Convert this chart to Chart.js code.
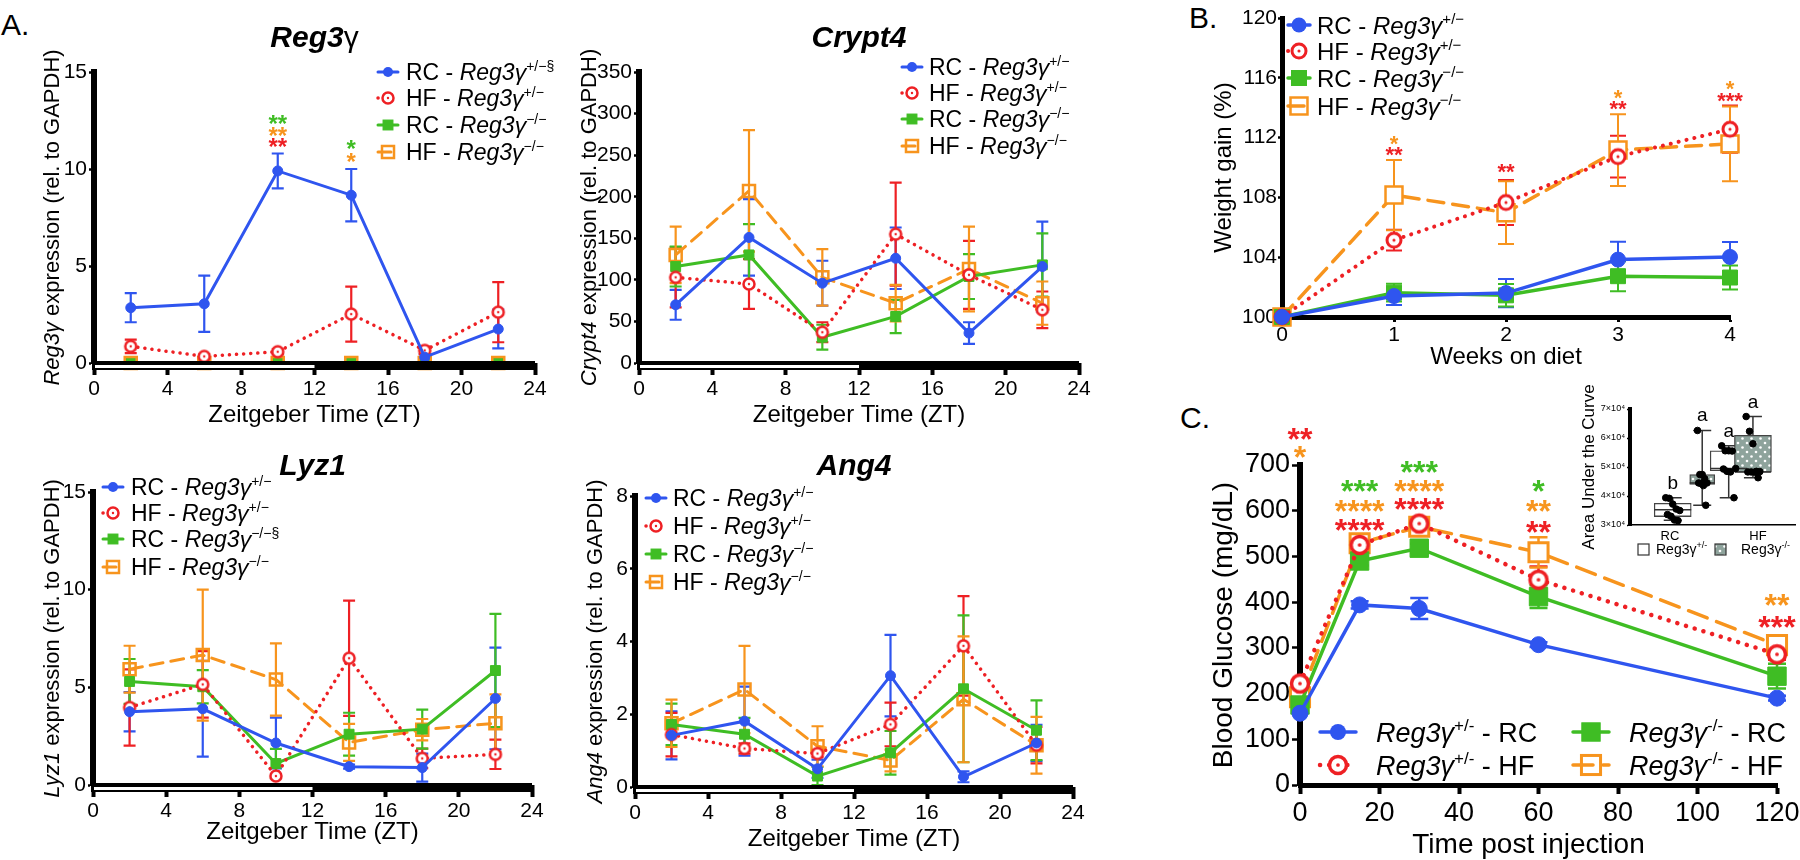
<!DOCTYPE html>
<html>
<head>
<meta charset="utf-8">
<title>Reg3g figure</title>
<script src="https://cdn.jsdelivr.net/npm/chart.js@4.4.1/dist/chart.umd.min.js"></script>
<style>
  html, body { margin: 0; padding: 0; background: #fff; }
  body { width: 1800px; height: 860px; position: relative; overflow: hidden; font-family: "Liberation Sans", Arial, sans-serif; }
  canvas { position: absolute; }
  .tag { position: absolute; font-size: 30px; line-height: 30px; color: #000; }
</style>
</head>
<body>
<div class="tag" style="left:1px;top:10px">A.</div>
<div class="tag" style="left:1189px;top:3px">B.</div>
<div class="tag" style="left:1180px;top:403px">C.</div>
<script>
// ---- data ----
// panel A, sampled every 4 h (ZT)
const zt = [2, 6, 10, 14, 18, 22];

const reg3gRChet = [2.85, 3.05, 9.9, 8.65, 0.3, 1.75];
const reg3gRChetSem = [0.75, 1.45, 0.9, 1.35, 0.15, 1.0];
const reg3gHFhet = [0.86, 0.34, 0.58, 2.52, 0.65, 2.62];
const reg3gHFhetSem = [0.35, 0.1, 0.12, 1.42, 0.2, 1.55];
const reg3gRCko = [0.02, 0.02, 0.02, 0.02, 0.02, 0.02];
const reg3gHFko = [0.0, 0.0, 0.0, 0.0, 0.0, 0.0];
const reg3gStars = [[10, 12.6, '**', 'RCko'], [10, 12.0, '**', 'HFko'], [10, 11.45, '**', 'HFhet'], [14, 11.3, '*', 'RCko'], [14, 10.65, '*', 'HFko']];

const crypt4RChet = [70, 151, 96, 126, 36, 116];
const crypt4RChetSem = [18, 46, 27, 37, 13, 54];
const crypt4HFhet = [103, 95, 37, 155, 106, 64];
const crypt4HFhetSem = [36, 30, 12, 62, 41, 22];
const crypt4RCko = [116, 130, 31, 56, 104, 118];
const crypt4RCkoSem = [24, 37, 15, 20, 27, 38];
const crypt4HFko = [130, 207, 103, 72, 113, 72];
const crypt4HFkoSem = [34, 73, 34, 22, 51, 26];

const lyz1RChet = [3.75, 3.9, 2.15, 0.94, 0.89, 4.43];
const lyz1RChetSem = [1.0, 2.45, 1.3, 0.1, 0.72, 2.6];
const lyz1HFhet = [3.97, 5.15, 0.46, 6.49, 1.36, 1.57];
const lyz1HFhetSem = [1.95, 1.7, 0.1, 2.95, 0.5, 0.75];
const lyz1RCko = [5.3, 5.03, 1.1, 2.6, 2.86, 5.86];
const lyz1RCkoSem = [1.15, 0.85, 0.75, 1.1, 1.0, 2.9];
const lyz1HFko = [5.93, 6.65, 5.4, 2.18, 2.83, 3.16];
const lyz1HFkoSem = [1.2, 3.35, 1.85, 0.95, 0.55, 1.48];

const ang4RChet = [1.42, 1.81, 0.5, 3.06, 0.28, 1.21];
const ang4RChetSem = [0.66, 0.95, 0.25, 1.12, 0.15, 0.5];
const ang4HFhet = [1.44, 1.06, 0.92, 1.72, 3.88, 1.15];
const ang4HFhetSem = [0.6, 0.14, 0.1, 0.6, 1.37, 0.5];
const ang4RCko = [1.72, 1.45, 0.3, 0.94, 2.7, 1.56];
const ang4RCkoSem = [0.57, 0.45, 0.25, 0.6, 2.02, 0.82];
const ang4HFko = [1.75, 2.68, 1.12, 0.73, 2.41, 1.15];
const ang4HFkoSem = [0.65, 1.2, 0.55, 0.3, 1.73, 0.78];

// panel B, weight gain
const weeks = [0, 1, 2, 3, 4];
const wgRChet = [100, 101.4, 101.6, 103.84, 104.02];
const wgRChetSem = [0, 0.6, 0.95, 1.2, 1.0];
const wgHFhet = [100, 105.14, 107.66, 110.73, 112.56];
const wgHFhetSem = [0, 0.7, 1.5, 1.4, 1.58];
const wgRCko = [100, 101.63, 101.45, 102.73, 102.64];
const wgRCkoSem = [0, 0.6, 0.75, 1.0, 0.8];
const wgHFko = [100, 108.16, 106.98, 111.17, 111.58];
const wgHFkoSem = [0, 2.35, 2.1, 2.4, 2.5];
const wgStars = [[1, 111.95, '*', 'HFko'], [1, 111.2, '**', 'HFhet'], [2, 110.05, '**', 'HFhet'], [3, 115.0, '*', 'HFko'], [3, 114.3, '**', 'HFhet'], [4, 115.6, '*', 'HFko'], [4, 114.85, '***', 'HFhet']];

// panel C, glucose tolerance
const gttMin = [0, 15, 30, 60, 120];
const gttRChet = [157, 394, 386, 307, 190];
const gttRChetSem = [0, 8, 23, 5, 5];
const gttHFhet = [222, 525, 572, 449, 286];
const gttHFhetSem = [6, 10, 12, 29, 12];
const gttRCko = [175, 490, 518, 412, 238];
const gttRCkoSem = [0, 10, 10, 25, 27];
const gttHFko = [192, 529, 565, 509, 306];
const gttHFkoSem = [6, 10, 12, 33, 16];
const gttStars = [[0, 772, '**', 'HFhet'], [0, 733, '*', 'HFko'],
  [15, 660, '***', 'RCko'], [15, 616, '****', 'HFko'], [15, 574, '****', 'HFhet'],
  [30, 700, '***', 'RCko'], [30, 660, '****', 'HFko'], [30, 620, '****', 'HFhet'],
  [60, 660, '*', 'RCko'], [60, 615, '**', 'HFko'], [60, 570, '**', 'HFhet'],
  [120, 410, '**', 'HFko'], [120, 362, '***', 'HFhet']];

// inset, area under the curve (x10^4)
const aucRChet = [3.94, 3.92, 3.72, 3.55, 3.50, 3.36, 3.30, 3.17, 3.15];
const aucRCko = [6.26, 4.74, 4.74, 4.60, 4.45, 4.45, 4.43, 4.36, 3.68];
const aucHFhet = [5.73, 5.56, 5.56, 5.55, 4.95, 4.93, 4.85, 4.83, 3.94];
const aucHFko = [6.74, 6.23, 5.80, 4.85, 4.84, 4.83, 4.83, 4.82, 4.63];
const aucMin = [3.16, 3.68, 3.94, 4.63];
const aucQ1 = [3.29, 4.40, 4.87, 4.82];
const aucMed = [3.53, 4.45, 4.95, 4.83];
const aucQ3 = [3.75, 4.74, 5.56, 6.09];
const aucMax = [3.94, 6.26, 5.73, 6.74];
const aucLetters = ['b', 'a', 'a', 'a'];

// ---- drawing ----
const FONT = '"Liberation Sans", Arial, sans-serif';
const COLORS = { RChet: '#2f55ef', HFhet: '#ee2024', RCko: '#3fbd24', HFko: '#f7941d' };

function fnt(size, flags) {
  flags = flags || '';
  return (flags.includes('i') ? 'italic ' : '') + (flags.includes('b') ? 'bold ' : '') + size + 'px ' + FONT;
}

// mixed text: parts = [[text, flags]], flags i = italic, b = bold, s = superscript
function rich(ctx, parts, x, y, size, align) {
  const sup = Math.round(size * 0.62);
  let w = 0;
  for (const [t, f = ''] of parts) { ctx.font = fnt(f.includes('s') ? sup : size, f); w += ctx.measureText(t).width; }
  let cx = align === 'center' ? x - w / 2 : align === 'right' ? x - w : x;
  ctx.textAlign = 'left';
  ctx.textBaseline = 'alphabetic';
  for (const [t, f = ''] of parts) {
    ctx.font = fnt(f.includes('s') ? sup : size, f);
    ctx.fillText(t, cx, f.includes('s') ? y - size * 0.4 : y);
    cx += ctx.measureText(t).width;
  }
}

function target(r, bw, color) {
  const c = document.createElement('canvas');
  const s = Math.ceil(2 * (r + bw)) + 2;
  c.width = c.height = s;
  const g = c.getContext('2d');
  g.beginPath(); g.arc(s / 2, s / 2, r, 0, Math.PI * 2);
  g.fillStyle = '#fff'; g.fill();
  g.lineWidth = bw; g.strokeStyle = color; g.stroke();
  g.beginPath(); g.arc(s / 2, s / 2, Math.max(1.2, r * 0.22), 0, Math.PI * 2);
  g.fillStyle = color; g.fill();
  return c;
}

function drawMarker(ctx, ds, x, y) {
  const ps = ds.pointStyle, r = ds.pointRadius;
  ctx.save();
  ctx.setLineDash([]);
  if (ps instanceof HTMLCanvasElement) {
    ctx.drawImage(ps, x - ps.width / 2, y - ps.height / 2);
  } else if (ps === 'circle') {
    ctx.beginPath(); ctx.arc(x, y, r, 0, Math.PI * 2);
    ctx.fillStyle = ds.pointBackgroundColor; ctx.fill();
  } else {
    const s = r * Math.SQRT1_2;
    if (ds.key !== 'HFko') { ctx.fillStyle = ds.pointBackgroundColor; ctx.fillRect(x - s, y - s, 2 * s, 2 * s); }
    ctx.lineWidth = ds.pointBorderWidth; ctx.strokeStyle = ds.pointBorderColor;
    ctx.strokeRect(x - s, y - s, 2 * s, 2 * s);
  }
  ctx.restore();
}

function addCanvas(left, top, w, h) {
  const cv = document.createElement('canvas');
  cv.width = w; cv.height = h;
  Object.assign(cv.style, { left: left + 'px', top: top + 'px', width: w + 'px', height: h + 'px' });
  document.body.appendChild(cv);
  return cv;
}

// mean +/- sem bars, behind the lines
const errorBars = {
  id: 'errorBars',
  beforeDatasetsDraw(chart) {
    const { ctx } = chart;
    const ys = chart.scales.y;
    chart.data.datasets.forEach((ds, i) => {
      if (!ds.sem) return;
      const meta = chart.getDatasetMeta(i);
      ctx.save();
      ctx.strokeStyle = ds.borderColor;
      ctx.lineWidth = ds.ew;
      ctx.setLineDash([]);
      meta.data.forEach((pt, j) => {
        const e = ds.sem[j];
        if (!e) return;
        const v = ds.data[j].y;
        const y1 = ys.getPixelForValue(v + e), y2 = ys.getPixelForValue(v - e);
        ctx.beginPath();
        ctx.moveTo(pt.x, y1); ctx.lineTo(pt.x, y2);
        ctx.moveTo(pt.x - ds.cap, y1); ctx.lineTo(pt.x + ds.cap, y1);
        ctx.moveTo(pt.x - ds.cap, y2); ctx.lineTo(pt.x + ds.cap, y2);
        ctx.stroke();
      });
      ctx.restore();
    });
  }
};

function deco(p) {
  return {
    id: 'deco',
    afterDatasetsDraw(chart) {
      if (!p.band) return;
      // light / dark bar under the ZT axis
      const { ctx, chartArea: a } = chart;
      const xs = chart.scales.x;
      const x0 = xs.getPixelForValue(0), x12 = xs.getPixelForValue(12), x24 = xs.getPixelForValue(24);
      ctx.save();
      ctx.fillStyle = '#000';
      ctx.fillRect(x0 - 2, a.bottom - 2, x24 - x0 + 2, 9);
      ctx.fillStyle = '#fff';
      ctx.fillRect(x0 + 1, a.bottom + 2, x12 - x0 - 1, 3);
      ctx.restore();
    },
    afterDraw(chart) {
      const { ctx, chartArea: a } = chart;
      const xs = chart.scales.x, ys = chart.scales.y;
      const cx = (a.left + a.right) / 2, cy = (a.top + a.bottom) / 2;
      ctx.save();
      ctx.fillStyle = '#000';
      if (p.title) rich(ctx, p.title, cx, a.top + p.titleDy, p.titleSize, 'center');
      rich(ctx, p.xtitle, cx + (p.xtitleDx || 0), a.bottom + p.xtitleDy, p.xtitleSize, 'center');
      ctx.save();
      ctx.translate(a.left + p.ytitleDx, cy);
      ctx.rotate(-Math.PI / 2);
      rich(ctx, p.ytitle, 0, p.ytitleSize * 0.36, p.ytitleSize, 'center');
      ctx.restore();

      // legend
      const lg = p.legend;
      lg.items.forEach(([key, parts, col, row], i) => {
        const ds = chart.data.datasets.find(d => d.key === key);
        const mx = lg.cols[col || 0] - p.left, my = lg.rows[row === undefined ? i : row] - p.top;
        ctx.save();
        ctx.strokeStyle = ds.borderColor;
        ctx.lineWidth = ds.borderWidth;
        ctx.lineCap = 'round';
        ctx.setLineDash(ds.borderDash || []);
        ctx.beginPath(); ctx.moveTo(mx - lg.half, my); ctx.lineTo(mx + lg.half, my); ctx.stroke();
        ctx.restore();
        drawMarker(ctx, ds, mx, my);
        ctx.fillStyle = '#000';
        rich(ctx, parts, mx + lg.dx, my + lg.size * 0.36, lg.size, 'left');
      });

      // significance stars
      (p.stars || []).forEach(([x, y, t, key]) => {
        ctx.fillStyle = COLORS[key];
        ctx.font = fnt(p.starSize, 'b');
        ctx.textAlign = 'center';
        ctx.textBaseline = 'alphabetic';
        ctx.fillText(t, xs.getPixelForValue(x), ys.getPixelForValue(y) + p.starSize * 0.57);
      });
      ctx.restore();
    }
  };
}

function makeLine(p) {
  const [l, t, r, b] = p.area, e = p.ext;
  p.left = l - e.l; p.top = t - e.t;
  const cv = addCanvas(p.left, p.top, r + e.r - p.left, b + e.b - p.top);
  const st = p.st;
  const datasets = p.series.map(([key, ys, sem]) => {
    const c = COLORS[key];
    const d = {
      key, sem, cap: st.cap, ew: st.ew,
      data: p.xs.map((x, i) => ({ x, y: ys[i] })),
      borderColor: c, borderWidth: st.lw, borderCapStyle: 'round', tension: 0, clip: false, fill: false,
      pointBorderColor: c, pointHoverRadius: 0
    };
    if (key === 'RChet') Object.assign(d, { pointStyle: 'circle', pointRadius: st.dot, pointBackgroundColor: c, pointBorderWidth: 1 });
    if (key === 'HFhet') Object.assign(d, { pointStyle: target(st.ring, st.ringW, c), pointRadius: st.ring, borderDash: st.dots, borderWidth: st.dotW });
    if (key === 'RCko') Object.assign(d, { pointStyle: 'rect', pointRadius: st.sq, pointBackgroundColor: c, pointBorderWidth: 1 });
    if (key === 'HFko') Object.assign(d, { pointStyle: 'rect', pointRadius: st.osq, pointBackgroundColor: st.osqFill, pointBorderWidth: st.osqW, borderDash: st.dash });
    return d;
  });
  new Chart(cv, {
    type: 'line',
    data: { datasets },
    options: {
      responsive: false,
      animation: false,
      events: [],
      layout: { padding: { left: 0, top: e.t, right: e.r, bottom: 0 } },
      plugins: { legend: { display: false }, tooltip: { enabled: false } },
      scales: {
        x: {
          type: 'linear', min: p.x[0], max: p.x[1],
          ticks: { stepSize: p.x[2], color: '#000', font: { family: FONT, size: p.tick }, padding: p.xpad, maxRotation: 0, autoSkip: false },
          grid: { drawOnChartArea: false, tickLength: p.xtl, tickWidth: p.xtw, tickColor: '#000' },
          border: { display: !p.band, color: '#000', width: p.xbw },
          afterFit: s => { s.height = e.b; }
        },
        y: {
          type: 'linear', min: p.y[0], max: p.y[1],
          ticks: { stepSize: p.y[2], color: '#000', font: { family: FONT, size: p.tick }, padding: p.ypad },
          grid: { drawOnChartArea: false, tickLength: p.ytl, tickWidth: 2.5, tickColor: '#000' },
          border: { color: '#000', width: p.ybw },
          afterFit: s => { s.width = e.l; }
        }
      }
    },
    plugins: [errorBars, deco(p)]
  });
}

const stA = { lw: 3, dotW: 3.5, dots: [0.1, 7], dash: [13, 8], dot: 5, ring: 5.5, ringW: 2.5, sq: 7, osq: 8.5, osqW: 2.5, osqFill: 'rgba(0,0,0,0)', cap: 6, ew: 2.2 };
const stB = { lw: 3.5, dotW: 4, dots: [0.1, 8], dash: [16, 9], dot: 7.5, ring: 7, ringW: 3, sq: 10.6, osq: 12, osqW: 2.5, osqFill: '#fff', cap: 8, ew: 2 };
const stC = { lw: 3.5, dotW: 4.5, dots: [0.1, 9], dash: [20, 10], dot: 8, ring: 8.5, ringW: 3.5, sq: 13, osq: 13.5, osqW: 3, osqFill: '#fff', cap: 9, ew: 2.5 };

const legA = (mark) => [
  ['RChet', [['RC - '], ['Reg3γ', 'i'], ['+/−' + (mark === 'RChet' ? '§' : ''), 's']]],
  ['HFhet', [['HF - '], ['Reg3γ', 'i'], ['+/−', 's']]],
  ['RCko', [['RC - '], ['Reg3γ', 'i'], ['−/−' + (mark === 'RCko' ? '§' : ''), 's']]],
  ['HFko', [['HF - '], ['Reg3γ', 'i'], ['−/−', 's']]]
];
const ztCommon = {
  xs: zt, x: [0, 24, 4], band: true, st: stA, tick: 21, xpad: 2, xtl: 12, xtw: 4, xbw: 0, ypad: 2, ytl: 5, ybw: 6,
  titleSize: 30, xtitle: [['Zeitgeber Time (ZT)']], xtitleSize: 24, ytitleSize: 22, starSize: 24
};

makeLine(Object.assign({}, ztCommon, {
  area: [94, 72, 535, 363], ext: { l: 94, t: 72, r: 30, b: 70 }, y: [0, 15, 5],
  series: [['RChet', reg3gRChet, reg3gRChetSem], ['HFhet', reg3gHFhet, reg3gHFhetSem], ['HFko', reg3gHFko, null], ['RCko', reg3gRCko, null]],
  title: [['Reg3', 'bi'], ['γ']], titleDy: -25, xtitleDy: 59,
  ytitle: [['Reg3γ', 'i'], [' expression (rel. to GAPDH)']], ytitleDx: -43,
  legend: { cols: [388], rows: [72, 98, 125, 152], dx: 18, half: 10, size: 23, items: legA('RChet') },
  stars: reg3gStars
}));

makeLine(Object.assign({}, ztCommon, {
  area: [639, 72, 1079, 363], ext: { l: 70, t: 72, r: 30, b: 70 }, y: [0, 350, 50],
  series: [['RChet', crypt4RChet, crypt4RChetSem], ['HFhet', crypt4HFhet, crypt4HFhetSem], ['RCko', crypt4RCko, crypt4RCkoSem], ['HFko', crypt4HFko, crypt4HFkoSem]],
  title: [['Crypt4', 'bi']], titleDy: -25, xtitleDy: 59,
  ytitle: [['Crypt4', 'i'], [' expression (rel. to GAPDH)']], ytitleDx: -51,
  legend: { cols: [912], rows: [67, 93, 119, 146], dx: 17, half: 10, size: 23, items: legA('') }
}));

makeLine(Object.assign({}, ztCommon, {
  area: [93, 492, 532, 785], ext: { l: 93, t: 72, r: 30, b: 72 }, y: [0, 15, 5],
  series: [['RChet', lyz1RChet, lyz1RChetSem], ['HFhet', lyz1HFhet, lyz1HFhetSem], ['RCko', lyz1RCko, lyz1RCkoSem], ['HFko', lyz1HFko, lyz1HFkoSem]],
  title: [['Lyz1', 'bi']], titleDy: -17, xtitleDy: 54,
  ytitle: [['Lyz1', 'i'], [' expression (rel. to GAPDH)']], ytitleDx: -42,
  legend: { cols: [113], rows: [487, 513, 539, 567], dx: 18, half: 10, size: 23, items: legA('RCko') }
}));

makeLine(Object.assign({}, ztCommon, {
  area: [635, 496, 1073, 787], ext: { l: 70, t: 76, r: 30, b: 70 }, y: [0, 8, 2],
  series: [['RChet', ang4RChet, ang4RChetSem], ['HFhet', ang4HFhet, ang4HFhetSem], ['RCko', ang4RCko, ang4RCkoSem], ['HFko', ang4HFko, ang4HFkoSem]],
  title: [['Ang4', 'bi']], titleDy: -21, xtitleDy: 59,
  ytitle: [['Ang4', 'i'], [' expression (rel. to GAPDH)']], ytitleDx: -41,
  legend: { cols: [656], rows: [498, 526, 554, 582], dx: 17, half: 10, size: 23, items: legA('') }
}));

// B
makeLine({
  area: [1282, 18, 1730, 317], ext: { l: 80, t: 18, r: 30, b: 55 },
  xs: weeks, x: [0, 4, 1], y: [100, 120, 4], st: stB, tick: 21, xpad: 1, xtl: 5, xtw: 3, xbw: 5, ypad: 1, ytl: 4, ybw: 5,
  series: [['RChet', wgRChet, wgRChetSem], ['HFhet', wgHFhet, wgHFhetSem], ['RCko', wgRCko, wgRCkoSem], ['HFko', wgHFko, wgHFkoSem]],
  xtitle: [['Weeks on diet']], xtitleSize: 24, xtitleDy: 47,
  ytitle: [['Weight gain (%)']], ytitleSize: 24, ytitleDx: -60,
  legend: { cols: [1299], rows: [25, 51, 78, 106], dx: 18, half: 11, size: 24, items: legA('') },
  stars: wgStars, starSize: 22
});

// C
makeLine({
  area: [1300, 465, 1777, 785], ext: { l: 100, t: 55, r: 40, b: 75 },
  xs: gttMin, x: [0, 120, 20], y: [0, 700, 100], st: stC, tick: 27, xpad: 3, xtl: 9, xtw: 4, xbw: 5, ypad: 2, ytl: 8, ybw: 6,
  series: [['RChet', gttRChet, gttRChetSem], ['HFhet', gttHFhet, gttHFhetSem], ['RCko', gttRCko, gttRCkoSem], ['HFko', gttHFko, gttHFkoSem]],
  xtitle: [['Time post injection']], xtitleSize: 28, xtitleDy: 68, xtitleDx: -10,
  ytitle: [['Blood Glucose (mg/dL)']], ytitleSize: 28, ytitleDx: -78,
  legend: {
    cols: [1338, 1591], rows: [732, 765], dx: 38, half: 18, size: 27, items: [
      ['RChet', [['Reg3γ', 'i'], ['+/-', 's'], [' - RC']], 0, 0],
      ['HFhet', [['Reg3γ', 'i'], ['+/-', 's'], [' - HF']], 0, 1],
      ['RCko', [['Reg3γ', 'i'], ['-/-', 's'], [' - RC']], 1, 0],
      ['HFko', [['Reg3γ', 'i'], ['-/-', 's'], [' - HF']], 1, 1]
    ]
  },
  stars: gttStars, starSize: 32
});

// inset box plot
(function makeInset() {
  const area = [1630, 409, 1798, 525], e = { l: 70, t: 45, r: 2, b: 40 };
  const left = area[0] - e.l, top = area[1] - e.t;
  const cv = addCanvas(left, top, area[2] + e.r - left, area[3] + e.b - top);
  const pos = [1, 2.18, 3.24, 4.21];
  const boxW = [37, 25, 37, 36];
  const spread = [-0.28, -0.14, 0, 0.14, 0.28, -0.21, -0.07, 0.07, 0.21];
  const groups = [aucRChet, aucRCko, aucHFhet, aucHFko];
  const pts = [];
  groups.forEach((g, k) => g.forEach((v, i) => pts.push({ x: pos[k] + spread[i] * boxW[k] / 37, y: v })));
  const tile = document.createElement('canvas');
  tile.width = tile.height = 9;
  const tg = tile.getContext('2d');
  tg.fillStyle = '#8ea39c'; tg.fillRect(0, 0, 9, 9);
  tg.fillStyle = '#fff';
  tg.beginPath(); tg.arc(2.5, 2.5, 1.3, 0, Math.PI * 2); tg.fill();
  tg.beginPath(); tg.arc(7, 7, 1.3, 0, Math.PI * 2); tg.fill();
  const pattern = cv.getContext('2d').createPattern(tile, 'repeat');
  const fills = ['#fff', pattern, '#fff', pattern];
  const wide = [0, 2, 3], narrow = [1];
  const boxSet = (idx, thick, order) => ({
    type: 'bar', order, idx,
    data: idx.map(k => ({ x: pos[k], y: [aucQ1[k], aucQ3[k]] })),
    backgroundColor: idx.map(k => fills[k]), borderColor: '#444', borderWidth: 1.3, borderSkipped: false,
    barThickness: thick, grouped: false
  });

  const boxExtras = {
    id: 'boxExtras',
    beforeDatasetsDraw(chart) {
      const { ctx } = chart, xs = chart.scales.x, ys = chart.scales.y;
      ctx.save();
      ctx.strokeStyle = '#333'; ctx.lineWidth = 1.5;
      pos.forEach((p, k) => {
        const x = xs.getPixelForValue(p);
        const lo = ys.getPixelForValue(aucMin[k]), hi = ys.getPixelForValue(aucMax[k]);
        ctx.beginPath();
        ctx.moveTo(x, lo); ctx.lineTo(x, hi);
        ctx.moveTo(x - 9, lo); ctx.lineTo(x + 9, lo);
        ctx.moveTo(x - 9, hi); ctx.lineTo(x + 9, hi);
        ctx.stroke();
      });
      ctx.restore();
    },
    afterDatasetDraw(chart, args) {
      const ds = chart.data.datasets[args.index];
      if (!ds.idx) return;
      const { ctx } = chart, xs = chart.scales.x, ys = chart.scales.y;
      ctx.save();
      ctx.strokeStyle = '#333'; ctx.lineWidth = 1.5;
      ds.idx.forEach(k => {
        const x = xs.getPixelForValue(pos[k]), m = ys.getPixelForValue(aucMed[k]), h = boxW[k] / 2;
        ctx.beginPath(); ctx.moveTo(x - h, m); ctx.lineTo(x + h, m); ctx.stroke();
      });
      ctx.restore();
    },
    afterDraw(chart) {
      const { ctx, chartArea: a } = chart, xs = chart.scales.x, ys = chart.scales.y;
      ctx.save();
      ctx.fillStyle = '#000';
      ctx.textAlign = 'center';
      ctx.textBaseline = 'alphabetic';
      ctx.font = fnt(19);
      pos.forEach((p, k) => ctx.fillText(aucLetters[k], xs.getPixelForValue(p), ys.getPixelForValue(aucMax[k]) - 9));
      ctx.font = fnt(13);
      ctx.fillText('RC', 1670 - left, a.bottom + 15);
      ctx.fillText('HF', 1758 - left, a.bottom + 15);
      // group key
      const ky = a.bottom + 19;
      ctx.lineWidth = 1.2; ctx.strokeStyle = '#333';
      ctx.fillStyle = '#fff'; ctx.fillRect(1638 - left, ky, 11, 11); ctx.strokeRect(1638 - left, ky, 11, 11);
      ctx.fillStyle = pattern; ctx.fillRect(1715 - left, ky, 11, 11); ctx.strokeRect(1715 - left, ky, 11, 11);
      ctx.fillStyle = '#000';
      rich(ctx, [['Reg3γ'], ['+/-', 's']], 1656 - left, ky + 10, 14, 'left');
      rich(ctx, [['Reg3γ'], ['-/-', 's']], 1741 - left, ky + 10, 14, 'left');
      ctx.translate(a.left - 42, (a.top + a.bottom) / 2);
      ctx.rotate(-Math.PI / 2);
      rich(ctx, [['Area Under the Curve']], 0, 17 * 0.36, 17, 'center');
      ctx.restore();
    }
  };

  new Chart(cv, {
    type: 'bar',
    data: {
      datasets: [
        { type: 'scatter', order: 0, data: pts, pointRadius: 3.3, pointBackgroundColor: '#000', pointBorderColor: '#000', pointHoverRadius: 0 },
        boxSet(wide, 37, 1),
        boxSet(narrow, 25, 2)
      ]
    },
    options: {
      responsive: false,
      animation: false,
      events: [],
      layout: { padding: { left: 0, top: e.t, right: e.r, bottom: 0 } },
      plugins: { legend: { display: false }, tooltip: { enabled: false } },
      scales: {
        x: {
          type: 'linear', min: 0.395, max: 4.816,
          ticks: { display: false },
          grid: { display: false },
          border: { color: '#000', width: 1.5 },
          afterFit: s => { s.height = e.b; }
        },
        y: {
          type: 'linear', min: 3, max: 7,
          ticks: { stepSize: 1, color: '#000', font: { family: FONT, size: 9 }, padding: 2, callback: v => v + '×10⁴' },
          grid: { drawOnChartArea: false, tickLength: 3, tickWidth: 1.5, tickColor: '#000' },
          border: { color: '#000', width: 4 },
          afterFit: s => { s.width = e.l; }
        }
      }
    },
    plugins: [boxExtras]
  });
})();
</script>
</body>
</html>
